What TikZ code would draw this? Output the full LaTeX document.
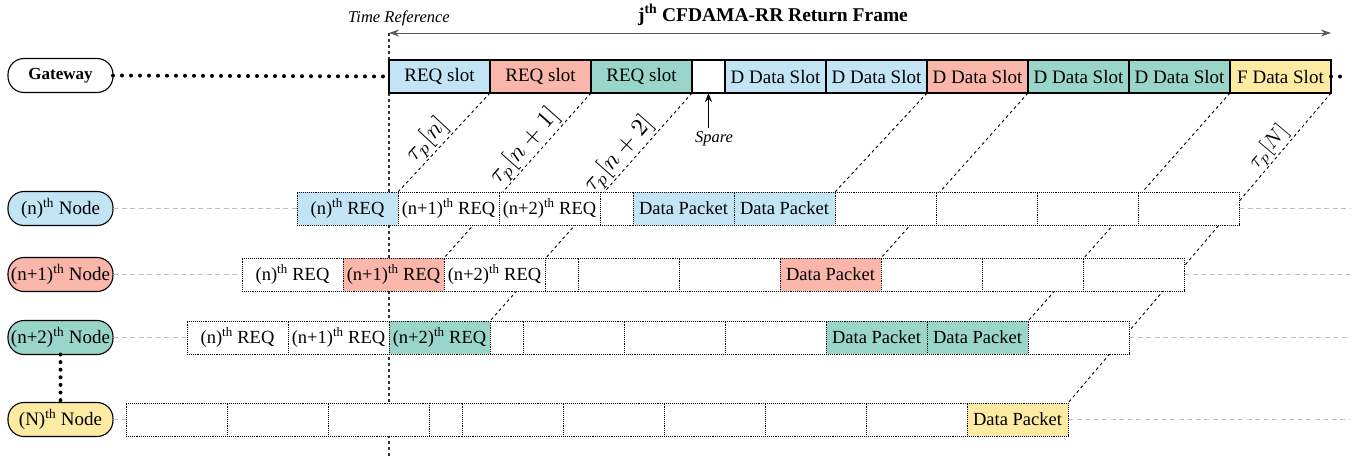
\documentclass[tikz,border=0pt]{standalone}
\usepackage{fontspec}
\setmainfont{Liberation Serif}
\usetikzlibrary{arrows.meta}
\definecolor{cblue}{HTML}{C2E4F5}
\definecolor{cred}{HTML}{FAB6AA}
\definecolor{cteal}{HTML}{99D5C9}
\definecolor{cyel}{HTML}{FEEBA3}
\pgfdeclarelayer{background}
\pgfsetlayers{background,main}
\newcommand\supth{\textsuperscript{th}}
\newcommand\bigmath[1]{\scalebox{2.45}{$#1$}}
\tikzset{
 gslot/.style={draw=black, line width=1.1pt, minimum height=33pt, inner sep=0pt, outer sep=0pt, anchor=west, font=\fontsize{19}{21}\selectfont},
 rslot/.style={draw=black, densely dotted, line width=0.9pt, minimum height=33pt, inner sep=0pt, outer sep=0pt, anchor=west, font=\fontsize{18.5}{21}\selectfont},
 wide/.style={minimum width=101pt},
 narrow/.style={minimum width=33pt},
 pill/.style={draw, line width=1.1pt, rounded corners=16pt, minimum width=105pt, minimum height=34pt, inner sep=0pt, outer sep=0pt, font=\fontsize{19}{21}\selectfont},
 prop/.style={draw, dashed, line width=0.9pt},
 tau/.style={sloped, anchor=south, inner sep=1pt},
 link/.style={draw=gray!50, dash pattern=on 5pt off 3.5pt, line width=1pt},
 bigdots/.style={line width=4pt, dash pattern=on 0pt off 9pt, line cap=round},
 vdots/.style={line width=4pt, dash pattern=on 0pt off 7.6pt, line cap=round},
 tref/.style={dashed, line width=1.3pt, black!80},
 frame arrow/.style={{Stealth[length=10pt,width=7pt]}-{Stealth[length=10pt,width=7pt]}, line width=1pt, black!65},
 ital/.style={font=\fontsize{16.5}{18}\selectfont\itshape},
}
\begin{document}
\begin{tikzpicture}[x=1pt,y=-1pt]
\useasboundingbox (0,0) rectangle (1362,458);

% titles
\node[font=\fontsize{19.5}{21}\selectfont\bfseries] (title) at (773,15) {j\supth{} CFDAMA-RR Return Frame};
\node[ital] (tref) at (399,18) {Time Reference};

% gateway frame
\foreach \i/\x/\w/\c/\t in {1/389/wide/cblue/REQ slot, 2/490/wide/cred/REQ slot, 3/591/wide/cteal/REQ slot, 4/692/narrow/white/{}, 5/725/wide/cblue/D Data Slot, 6/826/wide/cblue/D Data Slot, 7/927/wide/cred/D Data Slot, 8/1028/wide/cteal/D Data Slot, 9/1129/wide/cteal/D Data Slot, 10/1230/wide/cyel/F Data Slot}
  \node[gslot,\w,fill=\c] (g\i) at (\x,76.5) {\t};

% row n
\foreach \i/\x/\w/\c/\t in {1/297/wide/cblue/{(n)\supth{} REQ}, 2/398/wide/white/{(n+1)\supth{} REQ}, 3/499/wide/white/{(n+2)\supth{} REQ}, 4/600/narrow/white/{}, 5/633/wide/cblue/Data Packet, 6/734/wide/cblue/Data Packet, 7/835/wide/white/{}, 8/936/wide/white/{}, 9/1037/wide/white/{}, 10/1138/wide/white/{}}
  \node[rslot,\w,fill=\c] (a\i) at (\x,208.5) {\t};

% row n+1
\foreach \i/\x/\w/\c/\t in {1/242/wide/white/{(n)\supth{} REQ}, 2/343/wide/cred/{(n+1)\supth{} REQ}, 3/444/wide/white/{(n+2)\supth{} REQ}, 4/545/narrow/white/{}, 5/578/wide/white/{}, 6/679/wide/white/{}, 7/780/wide/cred/Data Packet, 8/881/wide/white/{}, 9/982/wide/white/{}, 10/1083/wide/white/{}}
  \node[rslot,\w,fill=\c] (b\i) at (\x,274.5) {\t};

% row n+2
\foreach \i/\x/\w/\c/\t in {1/187/wide/white/{(n)\supth{} REQ}, 2/288/wide/white/{(n+1)\supth{} REQ}, 3/389/wide/cteal/{(n+2)\supth{} REQ}, 4/490/narrow/white/{}, 5/523/wide/white/{}, 6/624/wide/white/{}, 7/725/wide/white/{}, 8/826/wide/cteal/Data Packet, 9/927/wide/cteal/Data Packet, 10/1028/wide/white/{}}
  \node[rslot,\w,fill=\c] (c\i) at (\x,337.5) {\t};

% row N
\foreach \i/\x/\w/\c/\t in {1/126/wide/white/{}, 2/227/wide/white/{}, 3/328/wide/white/{}, 4/429/narrow/white/{}, 5/462/wide/white/{}, 6/563/wide/white/{}, 7/664/wide/white/{}, 8/765/wide/white/{}, 9/866/wide/white/{}, 10/967/wide/cyel/Data Packet}
  \node[rslot,\w,fill=\c] (d\i) at (\x,419.5) {\t};

% left pills
\node[pill,fill=white,font=\fontsize{17}{20}\selectfont\bfseries] (gw) at (60.5,75.5) {Gateway};
\node[pill,fill=cblue] (na) at (60.5,208.5) {(n)\supth{} Node};
\node[pill,fill=cred] (nb) at (60.5,274.5) {(n+1)\supth{} Node};
\node[pill,fill=cteal] (nc) at (60.5,337.5) {(n+2)\supth{} Node};
\node[pill,fill=cyel] (nd) at (60.5,419.5) {(N)\supth{} Node};

% free ends
\coordinate (tt) at (389,33);
\coordinate (tb) at (389,458);
\coordinate (fe) at (1331,33);
\coordinate (gr) at (1345,76.5);
\coordinate (ea) at (1350,208.5);
\coordinate (eb) at (1350,274.5);
\coordinate (ec) at (1350,337.5);
\coordinate (ed) at (1350,419.5);
\coordinate (sp) at (708.5,128);

\begin{pgfonlayer}{background}
\draw[tref] (tt) -- (tb);
\draw[prop] (g1.south east) -- node[tau,pos=0.57] {\bigmath{\tau_p[n]}} (a1.north east);
\draw[prop] (g2.south east) -- node[tau,pos=0.38] {\bigmath{\tau_p[n+1]}} (b2.north east);
\draw[prop] (g3.south east) -- node[tau,pos=0.31] {\bigmath{\tau_p[n+2]}} (c3.north east);
\draw[prop] (g6.south east) -- (a6.north east);
\draw[prop] (g7.south east) -- (b7.north east);
\draw[prop] (g9.south east) -- (c9.north east);
\draw[prop] (g10.south east) -- node[tau,pos=0.20] {\scalebox{2.1}{$\tau_p[N]$}} (d10.north east);
\end{pgfonlayer}

\draw[frame arrow] (tt) -- (fe);

% gateway dotted links
\draw[bigdots] (gw.east) -- (g1.west);
\draw[bigdots] (g10.east) -- (gr);

% node links
\draw[link] (na.east) -- (a1.west);
\draw[link] (a10.east) -- (ea);
\draw[link] (nb.east) -- (b1.west);
\draw[link] (b10.east) -- (eb);
\draw[link] (nc.east) -- (c1.west);
\draw[link] (c10.east) -- (ec);
\draw[link] (nd.east) -- (d1.west);
\draw[link] (d10.east) -- (ed);

\draw[vdots] (nc.south) -- (nd.north);

% spare
\draw[-{Stealth[length=9pt,width=7pt]}, line width=1pt] (sp) -- (g4.south);
\node[ital] (spare) at (714,139) {Spare};
\end{tikzpicture}
\end{document}
